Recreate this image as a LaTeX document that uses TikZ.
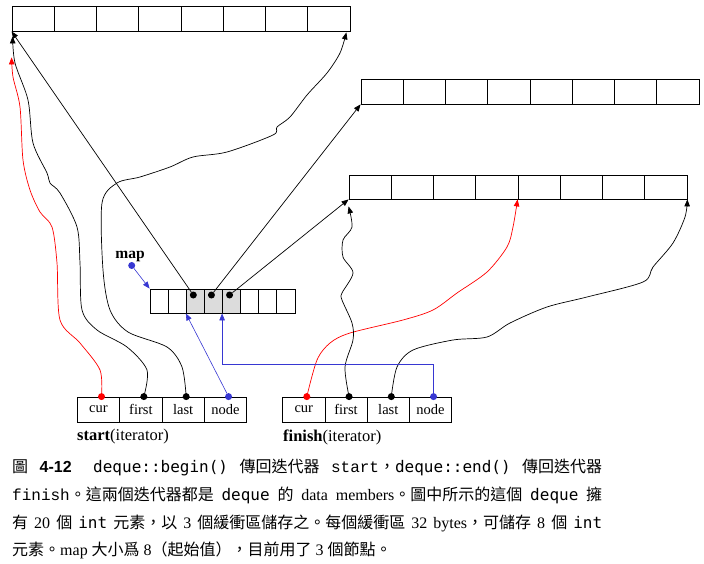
\documentclass[tikz,border=0pt]{standalone}
\usepackage{fontspec}
\setmainfont{Liberation Serif}
\setsansfont{Liberation Sans}
\setmonofont{Liberation Mono}
\newfontfamily\cjk{Noto Sans CJK TC}
\newfontfamily\codefont{DejaVu Sans Mono}
\usetikzlibrary{arrows.meta}
\usetikzlibrary{calc}
\definecolor{mapblue}{RGB}{55,55,210}
\definecolor{mapgray}{RGB}{220,220,220}
\tikzset{
  cell/.style={draw,line width=0.8pt,inner sep=0pt,minimum width=42.25pt,minimum height=25pt,font=\fontsize{14.5}{14.5}\selectfont},
  mapcell/.style={cell,minimum width=18.125pt,minimum height=24pt},
  dot/.style={circle,fill,inner sep=0pt,minimum size=7pt},
  wire/.style={line width=0.7pt,-{Triangle[length=7pt,width=5.5pt]}},
  capline/.style={anchor=west,inner sep=0pt,font=\fontsize{16}{18}\selectfont}
}
\begin{document}
\begin{tikzpicture}[x=1pt,y=-1pt]
\useasboundingbox (0,0) rectangle (704,564);
% three buffers
\foreach \i in {0,...,7} {
  \node[cell] (ba\i) at ({33.1+42.25*\i},18.5) {};
  \node[cell] (bb\i) at ({382.1+42.25*\i},91.5) {};
  \node[cell,minimum height=24pt] (bc\i) at ({370.1+42.25*\i},187) {};
}
% map
\foreach \i/\c in {0/white,1/white,2/mapgray,3/mapgray,4/mapgray,5/white,6/white,7/white}
  \node[mapcell,fill=\c] (m\i) at ({159.06+18.125*\i},301) {};
\foreach \i in {2,3,4}
  \node[dot] (md\i) at ($(m\i.center)+(-2,-6)$) {};
\node[font=\bfseries\fontsize{15.5}{15.5}\selectfont] (maplbl) at (130,256) {map};
\node[dot,mapblue] (mapdot) at (131.7,265.5) {};
\draw[wire,mapblue,line width=0.6pt] (mapdot) -- (m0.north west);
% iterators
\foreach \t [count=\i from 0] in {cur,first,last,node} {
  \node[cell] (s\i) at ({98.5+42.35*\i},409.5) {\t};
  \node[cell] (f\i) at ({303.8+42.25*\i},409.5) {\t};
}
\foreach \i/\c in {0/red,1/black,2/black,3/mapblue} {
  \node[dot,\c] (sd\i) at ($(s\i.north)+(3,0)$) {};
  \node[dot,\c] (fd\i) at ($(f\i.north)+(3,0)$) {};
}
\node[anchor=west,inner sep=0pt,font=\fontsize{16.5}{16.5}\selectfont] (slbl) at (77,437) {\textbf{start}(iterator)};
\node[anchor=west,inner sep=0pt,font=\fontsize{16.5}{16.5}\selectfont] (flbl) at (283,437) {\textbf{finish}(iterator)};
% map nodes to buffers
\draw[wire] (md2) -- (ba0.south west);
\draw[wire] (md3) -- (bb0.south west);
\draw[wire] (md4) -- (bc0.south west);
% start
\coordinate (scurtip) at ($(ba0.south west)+(0,26)$);
\coordinate (sfirsttip) at ($(ba0.south west)+(1,5)$);
\coordinate (slasttip) at ($(ba7.south east)+(-4,1)$);
\draw[wire,red] plot[smooth] coordinates {(sd0) (100,370) (80,343) (60,320) (57,263) (52,227) (40,212) (30,190) (23,160) (20,107) (13,77) (scurtip)};
\draw[wire] plot[smooth] coordinates {(sd1) (147,370) (127,347) (97,330) (82,310) (80,263) (77,227) (60,193) (50,183) (47,173) (33,143) (28,100) (15,63) (sfirsttip)};
\draw[wire] plot[smooth] coordinates {(sd2) (182,367) (167,347) (128,332) (110,310) (103,270) (102,203) (117,183) (140,177) (170,167) (193,157) (227,152) (273,135) (277,127) (290,117) (307,95) (327,73) (340,53) (slasttip)};
\draw[wire,mapblue,line width=0.6pt] (sd3) -- (m2.south west);
% finish
\coordinate (ffirsttip) at ($(bc0.south west)+(0,7)$);
\draw[wire,red] plot[smooth] coordinates {(fd0) (317,360) (330,343) (350,333) (403,320) (433,310) (457,293) (487,272) (507,247) (513,227) (bc4.south west)};
\draw[wire] plot[smooth] coordinates {(fd1) (345,367) (353,340) (352,323) (342,300) (342,293) (353,273) (343,257) (343,240) (352,227) (ffirsttip)};
\draw[wire] plot[smooth] coordinates {(fd2) (397,367) (413,350) (453,340) (487,337) (510,323) (547,307) (587,297) (643,282) (653,267) (673,243) (685,217) (bc7.south east)};
\draw[wire,mapblue,line width=0.6pt] (fd3) -- ++(0,-32) -| (m4.south west);
% caption
\node[capline] (cap1) at (12,467) {\makebox[590pt][s]{{\cjk 圖} {\sffamily\bfseries 4-12}\hspace{10pt} {\codefont deque::begin()} {\cjk 傳回迭代器} {\ttfamily start}{\cjk ，}{\codefont deque::end()} {\cjk 傳回迭代器}}};
\node[capline] (cap2) at (12,495) {\makebox[590pt][s]{{\ttfamily finish}{\cjk 。這兩個迭代器都是} {\codefont deque} {\cjk 的} data members{\cjk 。圖中所示的這個} {\codefont deque} {\cjk 擁}}};
\node[capline] (cap3) at (12,523) {\makebox[590pt][s]{{\cjk 有} 20 {\cjk 個} {\codefont int} {\cjk 元素，以} 3 {\cjk 個緩衝區儲存之。每個緩衝區} 32 bytes{\cjk ，可儲存} 8 {\cjk 個} {\codefont int}}};
\node[capline] (cap4) at (12,550) {{\cjk 元素。}map {\cjk 大小爲} 8{\cjk （起始值），目前用了} 3 {\cjk 個節點。}};
\end{tikzpicture}
\end{document}
